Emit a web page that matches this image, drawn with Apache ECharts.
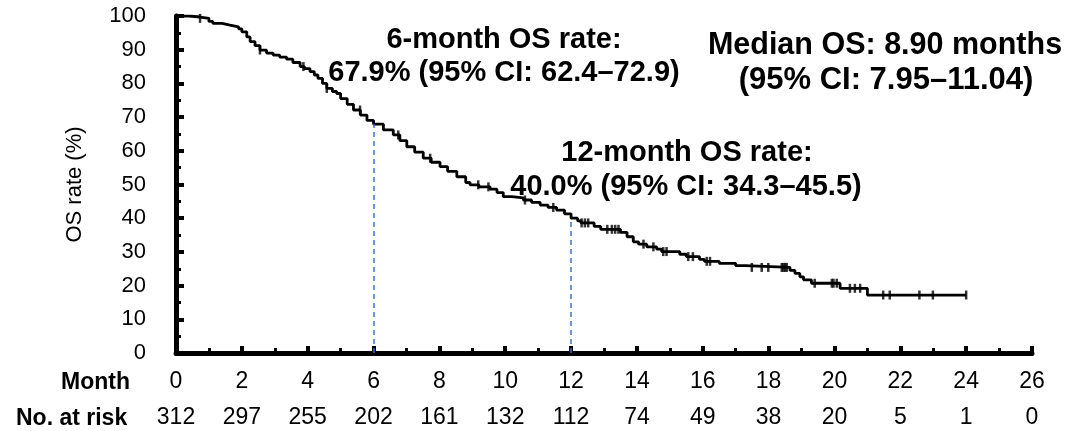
<!DOCTYPE html>
<html>
<head>
<meta charset="utf-8">
<script src="https://cdn.jsdelivr.net/npm/echarts@6/dist/echarts.min.js"></script>
<style>
  html, body { margin: 0; padding: 0; background: #fff; }
  #chart { width: 1079px; height: 431px; }
</style>
</head>
<body>
<div id="chart"></div>
<script>
// Kaplan-Meier step points (month, OS rate %)
const months = [0, 0.4, 0.73, 1.0, 1.12, 1.4, 1.64, 1.9, 2.0, 2.15, 2.25, 2.4, 2.55, 2.75, 2.95, 3.15, 3.36, 3.55, 3.77, 3.9,
  4.07, 4.2, 4.31, 4.45, 4.58, 4.75, 4.88, 5.0, 5.2, 5.39, 5.6, 5.8, 6.0, 6.3, 6.6, 6.8, 7.01, 7.25, 7.51, 7.75,
  8.02, 8.25, 8.53, 8.8, 8.93, 9.2, 9.54, 9.75, 9.94, 10.2, 10.55, 10.8, 11.06, 11.3, 11.56, 11.8, 12.0, 12.2, 12.3, 12.7,
  12.9, 13.5, 13.7, 13.89, 14.05, 14.3, 14.6, 14.75, 15.3, 15.5, 15.9, 16.05, 16.5, 17.0, 17.3, 18.65, 18.8, 18.95, 19.06, 19.3,
  20.17, 21.0, 24.0];
const osRate = [100, 99.7, 99.3, 98.4, 97.8, 97.3, 96.8, 96.2, 95.3, 93.8, 92.4, 91.2, 89.9, 89.0, 88.4, 87.8, 87.2, 86.2, 85.0, 84.4,
  83.5, 82.5, 81.5, 80.0, 78.5, 77.6, 77.0, 75.5, 73.8, 72.1, 70.6, 69.0, 67.9, 66.2, 64.7, 63.0, 61.2, 59.6, 57.8, 56.6,
  55.3, 53.9, 52.3, 50.6, 49.9, 49.3, 48.6, 47.6, 46.4, 46.0, 45.4, 44.7, 43.9, 43.2, 42.4, 41.3, 40.0, 39.2, 38.6, 37.6,
  36.7, 35.8, 34.5, 33.0, 32.3, 31.5, 30.8, 30.1, 29.3, 28.6, 27.8, 27.2, 26.6, 25.9, 25.4, 24.5, 23.6, 22.6, 21.7, 20.7,
  19.2, 17.2, 17.2];

// censored observations (months)
const censorMonths = [0.73, 2.55, 3.87, 4.58, 5.59, 6.75, 7.72, 9.18, 9.49, 10.6, 11.46, 12.32, 12.42, 12.52, 13.1, 13.24,
  13.34, 13.44, 14.2, 14.5, 14.8, 14.9, 15.56, 15.7, 16.12, 16.22, 17.49, 17.79, 17.99, 18.4, 18.45, 18.5, 18.55, 19.4,
  19.92, 19.97, 20.07, 20.47, 20.62, 20.78, 21.48, 21.68, 22.58, 22.99, 24.0];

// landmark rates (dashed guides)
const landmarkMonths = [6, 12];
const landmarkRates = [67.9, 40.0];

// risk table
const monthTicks = [0, 2, 4, 6, 8, 10, 12, 14, 16, 18, 20, 22, 24, 26];
const atRisk = [312, 297, 255, 202, 161, 132, 112, 74, 49, 38, 20, 5, 1, 0];

const FONT = '"Liberation Sans", Arial, sans-serif';

// KM value at time t (last step at or before t)
function rateAt(t) {
  let v = osRate[0];
  for (let i = 0; i < months.length; i++) {
    if (months[i] <= t) v = osRate[i];
    else break;
  }
  return v;
}

const chart = echarts.init(document.getElementById('chart'), null, { renderer: 'canvas' });

// annotation text helper
const note = (text, x, y, size) => ({
  type: 'text', x, y,
  style: { text, align: 'center', verticalAlign: 'middle', fill: '#000', font: `bold ${size}px ${FONT}` }
});

const option = {
  backgroundColor: '#fff',
  animation: false,
  textStyle: { fontFamily: FONT, color: '#000' },
  grid: { left: 176, right: 47, top: 16, bottom: 78, outerBoundsMode: 'none', containLabel: false },
  xAxis: {
    type: 'value',
    min: 0,
    max: 26,
    interval: 2,
    axisLine: { onZero: false, lineStyle: { color: '#000', width: 5 } },
    axisTick: { inside: true, length: 7, lineStyle: { color: '#000', width: 4 } },
    minorTick: { show: true, splitNumber: 2, length: 5, lineStyle: { color: '#000', width: 3 } },
    splitLine: { show: false },
    axisLabel: {
      margin: 11,
      showMaxLabel: true,
      formatter: (v) => {
        const i = monthTicks.indexOf(v);
        return `{m|${v}}\n{r|${i >= 0 ? atRisk[i] : ''}}`;
      },
      rich: {
        m: { fontFamily: FONT, fontSize: 23, color: '#000', lineHeight: 36 },
        r: { fontFamily: FONT, fontSize: 23, color: '#000', lineHeight: 36 }
      }
    }
  },
  yAxis: {
    type: 'value',
    min: 0,
    max: 100,
    interval: 10,
    name: 'OS rate (%)',
    nameLocation: 'middle',
    nameGap: 90,
    nameTextStyle: { fontFamily: FONT, fontSize: 22, color: '#000' },
    axisLine: { show: true, lineStyle: { color: '#000', width: 5 } },
    axisTick: { show: true, inside: true, length: 8, lineStyle: { color: '#000', width: 4 } },
    minorTick: { show: true, splitNumber: 2, length: 5, lineStyle: { color: '#000', width: 3 } },
    splitLine: { show: false },
    axisLabel: { margin: 30, fontFamily: FONT, fontSize: 22, color: '#000' }
  },
  series: [
    {
      name: 'OS',
      type: 'line',
      step: 'end',
      showSymbol: false,
      data: months.map((m, i) => [m, osRate[i]]),
      lineStyle: { color: '#000', width: 2.8 },
      z: 3,
      markLine: {
        silent: true,
        symbol: 'none',
        label: { show: false },
        lineStyle: { color: '#4472C4', width: 1.5, type: [5, 4] },
        data: landmarkMonths.map((m, i) => [{ coord: [m, 0] }, { coord: [m, landmarkRates[i]] }])
      }
    },
    {
      name: 'Censored',
      type: 'scatter',
      symbol: 'rect',
      symbolSize: [2.5, 9],
      itemStyle: { color: '#000' },
      data: censorMonths.map(t => [t, rateAt(t)]),
      z: 4
    }
  ],
  graphic: [
    { type: 'text', left: 61, top: 371, style: { text: 'Month', fill: '#000', font: `bold 23px ${FONT}` } },
    { type: 'text', left: 16, top: 407, style: { text: 'No. at risk', fill: '#000', font: `bold 23px ${FONT}` } },
    note('6-month OS rate:', 504, 40, 29),
    note('67.9% (95% CI: 62.4–72.9)', 504, 73, 29),
    note('12-month OS rate:', 687, 153, 29),
    note('40.0% (95% CI: 34.3–45.5)', 686, 187, 29),
    note('Median OS: 8.90 months', 885, 46, 30.5),
    note('(95% CI: 7.95–11.04)', 886, 80, 31)
  ]
};

chart.setOption(option);
</script>
</body>
</html>
